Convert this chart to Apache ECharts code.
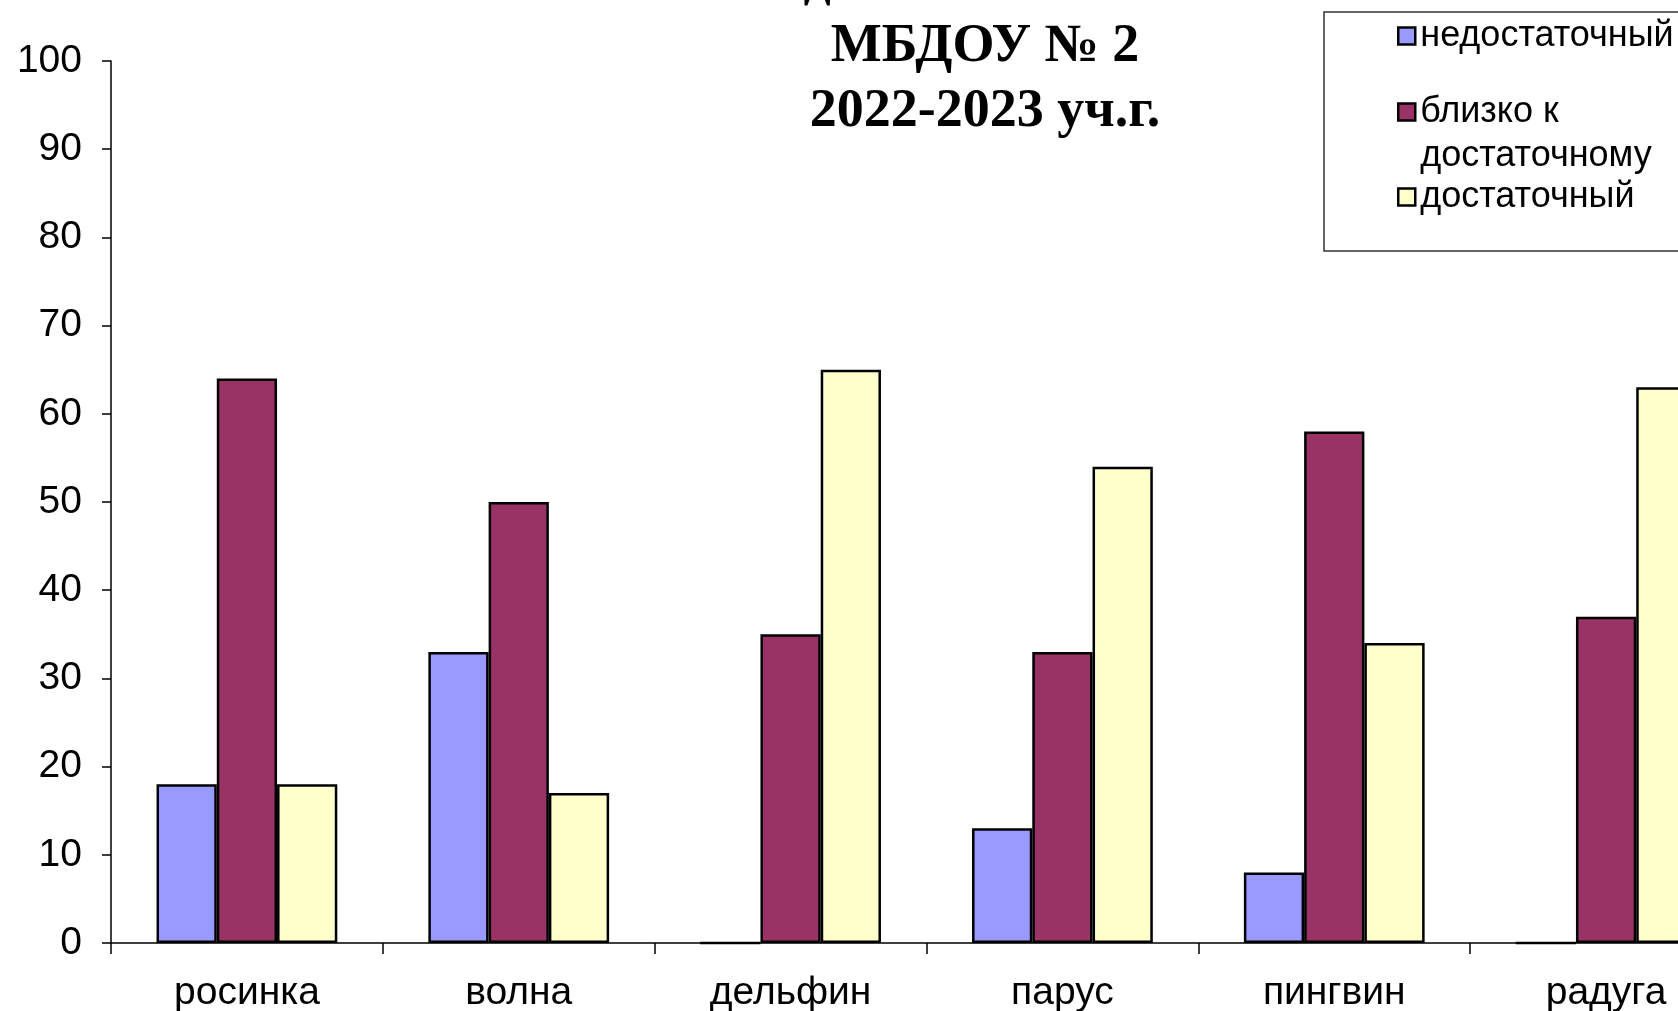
<!DOCTYPE html>
<html>
<head>
<meta charset="utf-8">
<script src="https://cdn.jsdelivr.net/npm/echarts@6/dist/echarts.min.js"></script>
<style>
html,body{margin:0;padding:0;background:#fff;}
#main{width:1678px;height:1011px;}
</style>
</head>
<body>
<div id="main"></div>
<script>
const categories = ['росинка', 'волна', 'дельфин', 'парус', 'пингвин', 'радуга'];
const seriesNames = ['недостаточный', 'близко к достаточному', 'достаточный'];
const insufficient = [18, 33, 0, 13, 8, 0];
const nearSufficient = [64, 50, 35, 33, 58, 37];
const sufficient = [18, 17, 65, 54, 34, 63];
const yTicks = { min: 0, max: 100, interval: 10 };
const titleLines = ['дошкольников', 'МБДОУ № 2', '2022-2023 уч.г.'];

const colors = ['#9999FF', '#993366', '#FFFFCC'];
const chart = echarts.init(document.getElementById('main'));

const legendText = { fontFamily: 'Liberation Sans, Arial, sans-serif', fontSize: 36, color: '#000' };
const legendItemStyle = { borderColor: '#000', borderWidth: 2.5 };

const option = {
  animation: false,
  backgroundColor: '#fff',
  graphic: [
    { type: 'rect', z: 0, shape: { x: 1324, y: 12, width: 420, height: 239 },
      style: { fill: '#fff', stroke: '#333', lineWidth: 1.5 } },
    { type: 'text', z: 10, x: 985, y: 47,
      style: { text: titleLines.join('\n'), align: 'center', verticalAlign: 'middle',
        font: 'bold 54px "Liberation Serif", "Times New Roman", serif', lineHeight: 65, fill: '#000' } }
  ],
  legend: [
    { data: [seriesNames[0]], orient: 'vertical', left: 1397, top: 18, padding: 0,
      icon: 'rect', itemWidth: 17, itemHeight: 17, itemStyle: legendItemStyle, textStyle: legendText },
    { data: [seriesNames[1]], orient: 'vertical', left: 1397, top: 46, padding: 0,
      icon: 'rect', itemWidth: 17, itemHeight: 17, itemStyle: legendItemStyle,
      formatter: () => '\nблизко к\nдостаточному',
      textStyle: Object.assign({}, legendText, { lineHeight: 44 }) },
    { data: [seriesNames[2]], orient: 'vertical', left: 1397, top: 179, padding: 0,
      icon: 'rect', itemWidth: 17, itemHeight: 17, itemStyle: legendItemStyle, textStyle: legendText }
  ],
  grid: { left: 111, top: 61, width: 1631, height: 882, containLabel: false, outerBoundsMode: 'none' },
  xAxis: {
    type: 'category',
    data: categories,
    axisLine: { lineStyle: { color: '#000', width: 1.5 } },
    axisTick: { show: true, interval: 0, length: 11, lineStyle: { color: '#000', width: 1.5 } },
    axisLabel: { margin: 31, color: '#000', fontSize: 39, fontFamily: 'Liberation Sans, Arial, sans-serif' }
  },
  yAxis: {
    type: 'value',
    min: yTicks.min, max: yTicks.max, interval: yTicks.interval,
    splitLine: { show: false },
    axisLine: { show: true, lineStyle: { color: '#000', width: 1.5 } },
    axisTick: { show: true, length: 9, lineStyle: { color: '#000', width: 1.5 } },
    axisLabel: { margin: 29, color: '#000', fontSize: 39, fontFamily: 'Liberation Sans, Arial, sans-serif' }
  },
  series: [insufficient, nearSufficient, sufficient].map((d, i) => ({
    name: seriesNames[i],
    type: 'bar',
    data: d,
    barGap: '0%',
    barCategoryGap: '33.5%',
    itemStyle: { color: colors[i], borderColor: '#000', borderWidth: 2.5 }
  }))
};
chart.setOption(option);
</script>
</body>
</html>
